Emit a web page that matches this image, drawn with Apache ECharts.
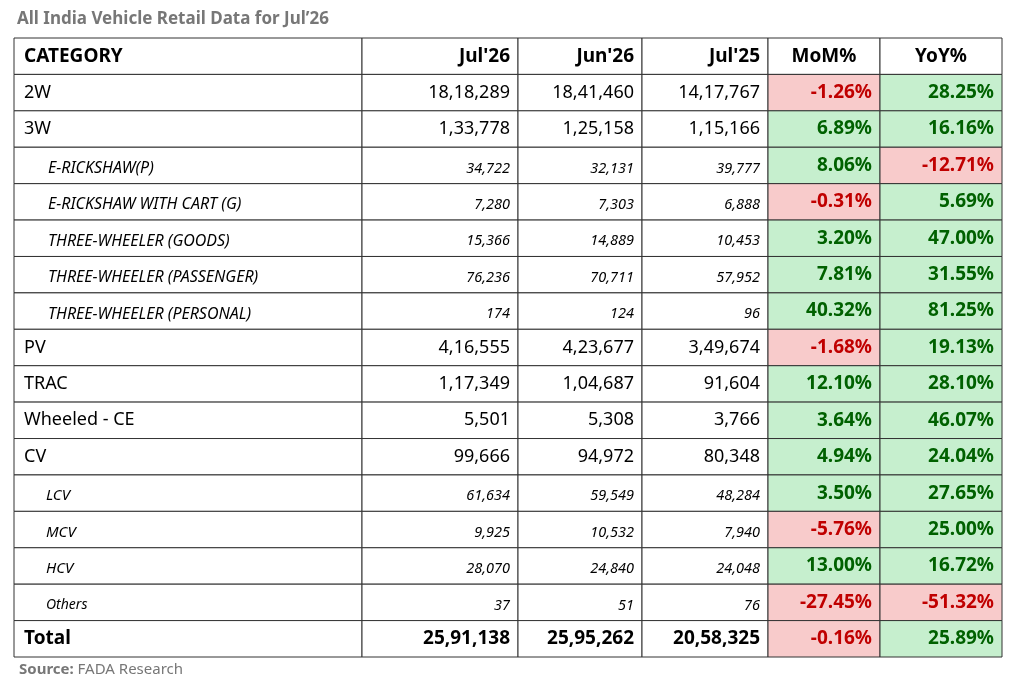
<!DOCTYPE html>
<html lang="en">
<head>
<meta charset="UTF-8">
<title>All India Vehicle Retail Data for Jul'26</title>
<script src="https://cdn.jsdelivr.net/npm/echarts@6/dist/echarts.min.js"></script>
<style>html,body{margin:0;background:#fff}#main{width:1024px;height:685px}</style>
</head>
<body>
<div id="main"></div>
<script>
var headers = ['CATEGORY', "Jul'26", "Jun'26", "Jul'25", 'MoM%', 'YoY%'];
var categories = ['2W', '3W', 'E-RICKSHAW(P)', 'E-RICKSHAW WITH CART (G)', 'THREE-WHEELER (GOODS)',
  'THREE-WHEELER (PASSENGER)', 'THREE-WHEELER (PERSONAL)', 'PV', 'TRAC', 'Wheeled - CE', 'CV',
  'LCV', 'MCV', 'HCV', 'Others', 'Total'];
// 0 = main row, 1 = 3W sub row, 2 = CV sub row, 3 = total
var level = [0, 0, 1, 1, 1, 1, 1, 0, 0, 0, 0, 2, 2, 2, 2, 3];
var jul26 = ['18,18,289', '1,33,778', '34,722', '7,280', '15,366', '76,236', '174', '4,16,555', '1,17,349',
  '5,501', '99,666', '61,634', '9,925', '28,070', '37', '25,91,138'];
var jun26 = ['18,41,460', '1,25,158', '32,131', '7,303', '14,889', '70,711', '124', '4,23,677', '1,04,687',
  '5,308', '94,972', '59,549', '10,532', '24,840', '51', '25,95,262'];
var jul25 = ['14,17,767', '1,15,166', '39,777', '6,888', '10,453', '57,952', '96', '3,49,674', '91,604',
  '3,766', '80,348', '48,284', '7,940', '24,048', '76', '20,58,325'];
var mom = [-1.26, 6.89, 8.06, -0.31, 3.20, 7.81, 40.32, -1.68, 12.10, 3.64, 4.94, 3.50, -5.76, 13.00, -27.45, -0.16];
var yoy = [28.25, 16.16, -12.71, 5.69, 47.00, 31.55, 81.25, 19.13, 28.10, 46.07, 24.04, 27.65, 25.00, 16.72, -51.32, 25.89];

var edges = [0, 348, 504, 628, 754, 866, 988];
var rows = ['H'].concat(categories);

var cells = [];
for (var c = 0; c < 6; c++) cells.push([c, 0, headers[c]]);
for (var i = 0; i < categories.length; i++) {
  var r = i + 1;
  cells.push([0, r, categories[i], level[i]]);
  cells.push([1, r, jul26[i], level[i]]);
  cells.push([2, r, jun26[i], level[i]]);
  cells.push([3, r, jul25[i], level[i]]);
  cells.push([4, r, mom[i].toFixed(2) + '%', level[i], mom[i]]);
  cells.push([5, r, yoy[i].toFixed(2) + '%', level[i], yoy[i]]);
}

var font = '"Noto Sans", sans-serif';
function renderItem(params, api) {
  var col = api.value(0), row = api.value(1);
  var d = cells[params.dataIndex];
  var p0 = api.coord([edges[col], row]);
  var p1 = api.coord([edges[col + 1], row]);
  var h = api.size([0, 1])[1];
  var x = p0[0], w = p1[0] - p0[0], y = p0[1] - h / 2;
  var lv = d[3], pct = d[4];
  var fill = '#fff', color = '#000', weight = 'normal', style = 'normal', size = 18;
  if (row === 0) { weight = 'bold'; size = 19; }
  if (lv === 3) { weight = 'bold'; size = 19; }
  if ((lv === 1 || lv === 2) && col < 4) { style = 'italic'; size = col === 0 ? 16 : 14.5; }
  if (lv === 2 && col === 0) size = 15;
  if (categories[row - 1] === 'Others' && col === 0) size = 14;
  if (pct !== undefined) {
    weight = 'bold'; size = 19; style = 'normal';
    if (pct < 0) { fill = '#f8cbcb'; color = '#c00000'; } else { fill = '#c6efce'; color = '#006100'; }
  }
  var tx, align;
  if (col === 0) {
    align = 'left';
    tx = x + (lv === 1 ? 34 : lv === 2 ? 32 : 10);
  } else if (row === 0 && col >= 4) {
    align = 'center'; tx = x + w / 2;
  } else {
    align = 'right'; tx = x + w - 8;
  }
  var ty = y + h / 2 + ((lv === 1 || lv === 2) && col < 4 ? 3 : 0);
  return {
    type: 'group',
    children: [
      { type: 'rect', shape: { x: x, y: y, width: w, height: h },
        style: { fill: fill, stroke: '#333', lineWidth: 1 } },
      { type: 'text', style: { x: tx, y: ty, text: d[2], fill: color, align: align,
        verticalAlign: 'middle', font: style + ' ' + weight + ' ' + size + 'px ' + font } }
    ]
  };
}

var chart = echarts.init(document.getElementById('main'));
chart.setOption({
  animation: false,
  title: [
    { text: "All India Vehicle Retail Data for Jul\u201926", left: 12, top: 6,
      textStyle: { color: '#777', fontSize: 17, fontWeight: 'bold', fontFamily: font } },
    { text: '{b|Source:} FADA Research', left: 14, top: 657,
      textStyle: { color: '#777', fontSize: 15, fontWeight: 'normal', fontFamily: font,
        rich: { b: { fontWeight: 'bold', fontSize: 15, color: '#777', fontFamily: font } } } }
  ],
  grid: { left: 14, right: 22, top: 38, bottom: 28 },
  xAxis: { type: 'value', min: 0, max: 988, show: false },
  yAxis: { type: 'category', data: rows, inverse: true, show: false },
  series: [{
    type: 'custom',
    renderItem: renderItem,
    data: cells.map(function (d) { return [d[0], d[1]]; })
  }]
});
</script>
</body>
</html>
